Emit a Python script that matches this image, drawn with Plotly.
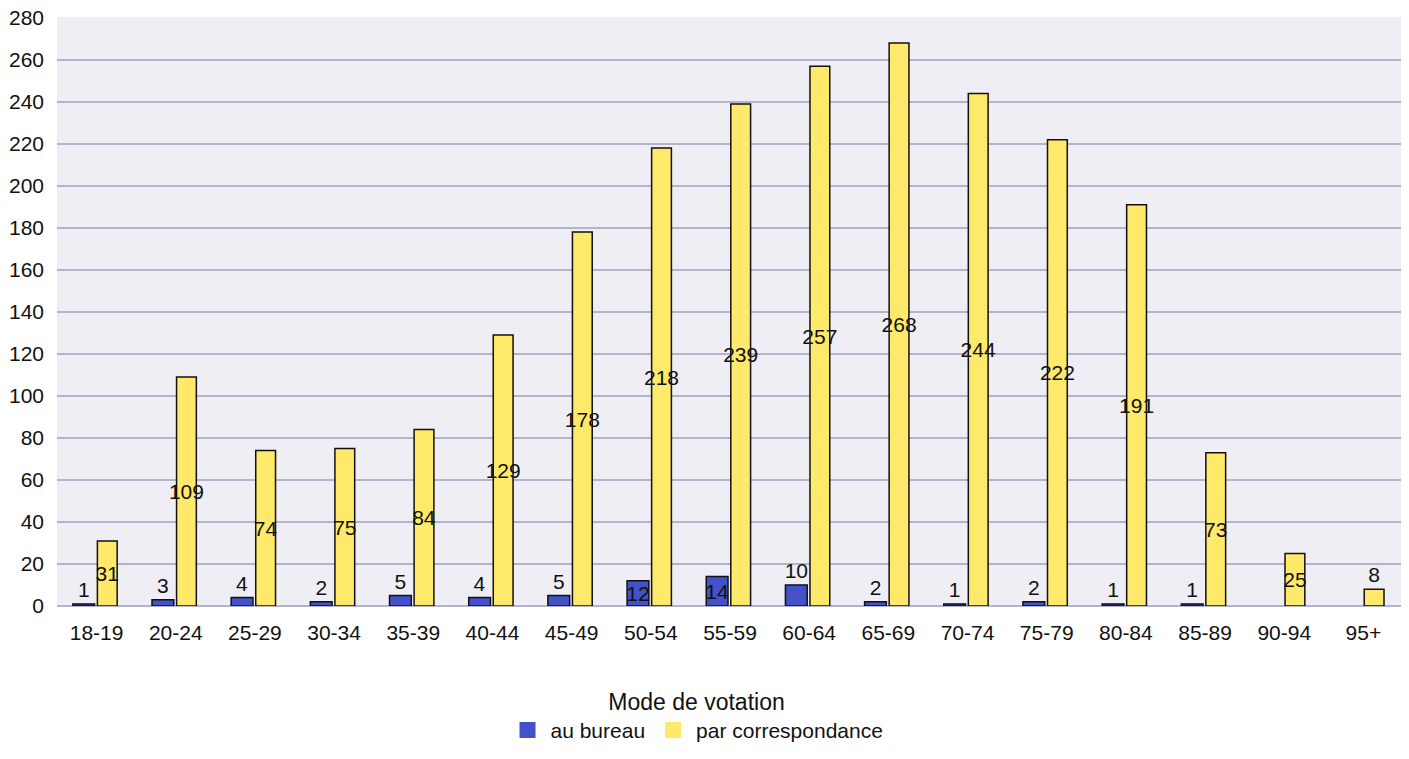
import plotly.graph_objects as go

categories = ["18-19", "20-24", "25-29", "30-34", "35-39", "40-44", "45-49", "50-54", "55-59",
              "60-64", "65-69", "70-74", "75-79", "80-84", "85-89", "90-94", "95+"]
bureau = [1, 3, 4, 2, 5, 4, 5, 12, 14, 10, 2, 1, 2, 1, 1, None, None]
correspondance = [31, 109, 74, 75, 84, 129, 178, 218, 239, 257, 268, 244, 222, 191, 73, 25, 8]
y_ticks = list(range(0, 281, 20))

BLUE = "#4352c8"
YELLOW = "#fee96a"
FONT = "Liberation Sans, Arial, sans-serif"

# page body has an 8px default margin, so the figure is drawn 8px smaller
W, H = 1401, 751

x = list(range(len(categories)))


def positions(vals):
    return ["inside" if (v is not None and v >= 12) else "outside" for v in vals]


def texts(vals):
    return ["" if v is None else str(v) for v in vals]


fig = go.Figure()
fig.add_trace(go.Bar(
    x=x, y=bureau, width=0.275, offset=-0.30,
    marker=dict(color=BLUE, line=dict(color="#111111", width=1.5)),
    text=texts(bureau), textposition=positions(bureau), insidetextanchor="middle",
    textangle=0, constraintext="none", cliponaxis=False,
    textfont=dict(family=FONT, size=21, color="#111111"),
    name="au bureau", showlegend=False, hoverinfo="x+y",
))
fig.add_trace(go.Bar(
    x=x, y=correspondance, width=0.25, offset=0.01,
    marker=dict(color=YELLOW, line=dict(color="#111111", width=1.5)),
    text=texts(correspondance), textposition=positions(correspondance), insidetextanchor="middle",
    textangle=0, constraintext="none", cliponaxis=False,
    textfont=dict(family=FONT, size=21, color="#111111"),
    name="par correspondance", showlegend=False, hoverinfo="x+y",
))
# legend entries (plain squares, no outline)
for name, col in [("au bureau", BLUE), ("par correspondance", YELLOW)]:
    fig.add_trace(go.Scatter(
        x=[None], y=[None], mode="markers", name=name,
        marker=dict(symbol="square", size=17, color=col, line=dict(width=0)),
    ))

fig.update_layout(
    width=W, height=H,
    margin=dict(l=49, r=6, t=9, b=153, autoexpand=False),
    paper_bgcolor="white", plot_bgcolor="#efeef4",
    font=dict(family=FONT, size=21, color="#111111"),
    barmode="overlay",
    xaxis=dict(
        tickmode="array", tickvals=x, ticktext=categories,
        range=[-0.5, len(categories) - 0.5],
        showgrid=False, zeroline=False, showline=False,
        ticks="", ticklabelstandoff=12, automargin=False,
        tickfont=dict(size=21),
    ),
    yaxis=dict(
        range=[0, 280.4], tickvals=y_ticks, showgrid=True,
        gridcolor="#b3b3cc", gridwidth=2, zeroline=True, zerolinecolor="#b3b3cc", zerolinewidth=2,
        showline=False, ticks="", ticklabelstandoff=12, automargin=False,
        ticklabeloverflow="allow",
        tickfont=dict(size=21),
    ),
    legend=dict(
        orientation="h", xref="container", x=0.5 - 12 / W, xanchor="center",
        yref="container", y=1 - 672 / H, yanchor="top",
        title=dict(text="Mode de votation", side="top center", font=dict(size=23)),
        font=dict(size=21), itemwidth=36,
        bgcolor="rgba(0,0,0,0)",
    ),
)

fig.write_html("out.html")
